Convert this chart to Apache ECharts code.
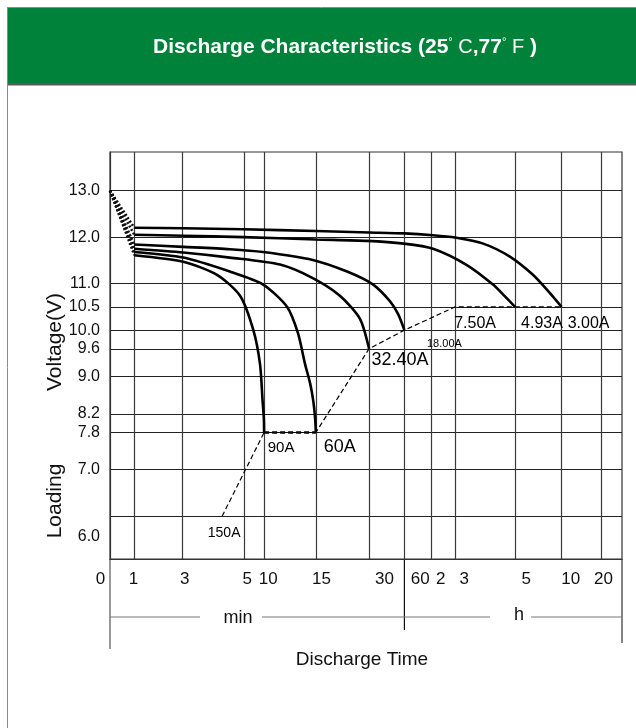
<!DOCTYPE html>
<html><head><meta charset="utf-8">
<script src="https://cdn.jsdelivr.net/npm/echarts@6/dist/echarts.min.js"></script>
<style>html,body{margin:0;padding:0;background:#fff}#c{width:636px;height:728px}</style>
</head><body><div id="c"></div><script>
// ---- axis definitions (x axis is a position scale 0..100 across the time span) ----
const xGridPos   = [4.75, 14.2, 26.2, 30.1, 40.2, 50.6, 57.5, 62.7, 67.4, 79.1, 88.2, 96.0];
const xLabelText = ['0', '1', '3', '5', '10', '15', '30', '60', '2', '3', '5', '10', '20'];
const xLabelPos  = [0, 4.6, 14.6, 26.8, 30.9, 41.3, 53.6, 60.6, 64.6, 69.2, 81.3, 90.0, 96.4];
const yGridVals  = [13.0, 12.0, 11.0, 10.5, 10.0, 9.6, 9.0, 8.2, 7.8, 7.0, 6.0];
const yLabelText = ['13.0', '12.0', '11.0', '10.5', '10.0', '9.6', '9.0', '8.2', '7.8', '7.0', '6.0'];
const yLabelPos  = [13.0, 12.0, 11.0, 10.5, 10.0, 9.6, 9.0, 8.2, 7.8, 7.0, 5.57];

// ---- discharge curves: [time position, voltage] ----
const curve3A    = [[4.75,12.20],[14.3,12.19],[26.0,12.17],[40.2,12.13],[50.6,12.10],[57.5,12.08],[63.1,12.04],[67.4,11.99],[72.9,11.86],[78.1,11.58],[82.6,11.19],[85.5,10.85],[88.2,10.5]];
const curve4_93A = [[4.75,12.05],[14.3,12.03],[26.0,12.00],[40.2,11.95],[50.2,11.92],[57.4,11.86],[63.1,11.75],[69.7,11.40],[74.8,10.98],[77.1,10.73],[79.1,10.5]];
const curve18A   = [[4.75,11.84],[14.3,11.79],[23.4,11.74],[29.9,11.68],[39.6,11.51],[46.3,11.26],[51.4,10.98],[54.7,10.62],[56.3,10.34],[57.5,10.0]];
const curve32_4A = [[4.75,11.75],[14.3,11.67],[23.4,11.56],[33.2,11.41],[39.6,11.12],[44.9,10.74],[48.8,10.25],[50.6,9.6]];
const curve60A   = [[4.75,11.68],[14.3,11.56],[23.4,11.26],[29.9,10.98],[34.6,10.5],[36.7,9.94],[38.1,9.27],[39.1,8.85],[39.7,8.48],[40.05,8.12],[40.2,7.8]];
const curve90A   = [[4.75,11.61],[14.3,11.47],[20.9,11.19],[25.4,10.74],[28.0,10.0],[29.3,9.27],[29.8,8.48],[30.05,8.1],[30.1,7.8]];
const curves = [curve3A, curve4_93A, curve18A, curve32_4A, curve60A, curve90A];
const startPoint = [0, 13.0];

// ---- end-of-discharge points and their labels ----
const endPts    = [[21.9,6.0],[30.1,7.8],[40.2,7.8],[50.6,9.6],[57.5,10.0],[67.4,10.5],[79.1,10.5],[88.2,10.5]];
const endLabels = ['150A','90A','60A','32.40A','18.00A','7.50A','4.93A','3.00A'];
const endLabelOffset = [[2,17],[17,15],[24,15],[31,11],[40,14],[20,17],[27,17],[27,17]];
const endLabelSize   = [14,15,18,18,11,16,16,16];

const FONT = "'Liberation Sans', Arial, sans-serif";

const chart = echarts.init(document.getElementById('c'), null, {renderer:'canvas'});

const series = [];
curves.forEach(c => {
  series.push({type:'line', data:[startPoint, c[0]], symbol:'none', silent:true,
    lineStyle:{color:'#111', width:2.6, type:[2,2]}, z:3});
  series.push({type:'line', data:c, symbol:'none', smooth:0.25, silent:true,
    lineStyle:{color:'#000', width:2.6}, z:4});
});
// thin dashed line joining end points
series.push({type:'line', data:endPts, symbol:'none', silent:true,
  lineStyle:{color:'#000', width:1.2, type:[5,3]}, z:5});
// thicker dashed segment between 90A and 60A ends
series.push({type:'line', data:[endPts[1], endPts[2]], symbol:'none', silent:true,
  lineStyle:{color:'#000', width:2.4, type:[5,3]}, z:5});
// labels
series.push({type:'scatter', symbolSize:0, silent:true, z:6, itemStyle:{opacity:1},
  data: endPts.map((p,i) => ({value:p, label:{show:true, formatter:endLabels[i], position:'inside',
    offset:endLabelOffset[i], fontSize:endLabelSize[i], color:'#000', opacity:1,
    textBorderWidth:0, fontFamily:FONT}}))});

chart.setOption({
  animation:false,
  backgroundColor:'#fff',
  grid:{left:110, top:152, right:14, bottom:169, show:true, borderColor:'#333', borderWidth:1.2, backgroundColor:'transparent'},
  xAxis:{type:'value', min:0, max:100,
    axisLine:{show:true, lineStyle:{color:'#333', width:1.2}},
    axisTick:{show:false, customValues:xGridPos},
    splitLine:{show:true, lineStyle:{color:'#3a3a3a', width:1.2}},
    axisLabel:{customValues:xLabelPos, margin:12, fontSize:17, color:'#111', fontFamily:FONT,
      formatter:v => { const i = xLabelPos.findIndex(p => Math.abs(p-v) < 1e-6); if (i===0) return '{z|0}'; return i>=0 ? xLabelText[i] : ''; },
      rich:{z:{fontSize:17, color:'#111', fontFamily:FONT, padding:[0,19,0,0]}}}
  },
  yAxis:{type:'value', min:5.08, max:13.83,
    axisLine:{show:true, lineStyle:{color:'#333', width:1.2}},
    axisTick:{show:false, customValues:yGridVals},
    splitLine:{show:true, lineStyle:{color:'#222', width:1.2}},
    axisLabel:{customValues:yLabelPos, margin:10, fontSize:16, color:'#111', fontFamily:FONT,
      formatter:v => { const i = yLabelPos.findIndex(p => Math.abs(p-v) < 1e-6); return i>=0 ? yLabelText[i] : ''; }}
  },
  series: series
});

// decorations: header bar, frame, time unit row, axis titles
const sepX = chart.convertToPixel({xAxisIndex:0}, xGridPos[6]);
const g = [
  {type:'line', shape:{x1:7.5,y1:7,x2:7.5,y2:728}, style:{stroke:'#8a8a8a', lineWidth:1}},
  {type:'line', shape:{x1:7,y1:7.5,x2:636,y2:7.5}, style:{stroke:'#8a8a8a', lineWidth:1}},
  {type:'rect', shape:{x:8, y:8, width:628, height:75}, style:{fill:'#00823a'}},
  {type:'rect', shape:{x:8, y:83, width:628, height:2.5}, style:{fill:'#5a5a5a'}},
  {type:'text', x:345, y:47, style:{
    text:'{b|Discharge Characteristics (25}{d|°}{n| C}{b|,77}{d|°}{n| F}{b| )}',
    align:'center', verticalAlign:'middle', fill:'#fff',
    rich:{b:{fontSize:21, fontWeight:'bold', fill:'#fff', fontFamily:FONT},
          n:{fontSize:20, fill:'#fff', fontFamily:FONT},
          d:{fontSize:11, fill:'#fff', fontFamily:FONT, verticalAlign:'top', padding:[0,0,10,0]}}}},
  {type:'line', shape:{x1:110,y1:559,x2:110,y2:649}, style:{stroke:'#555', lineWidth:1.2}},
  {type:'line', shape:{x1:622,y1:559,x2:622,y2:643}, style:{stroke:'#333', lineWidth:1.2}},
  {type:'line', shape:{x1:sepX,y1:559,x2:sepX,y2:630}, style:{stroke:'#111', lineWidth:1.2}},
  {type:'line', shape:{x1:110,y1:617,x2:200,y2:617}, style:{stroke:'#777', lineWidth:1.2}},
  {type:'line', shape:{x1:262,y1:617,x2:490,y2:617}, style:{stroke:'#777', lineWidth:1.2}},
  {type:'line', shape:{x1:531,y1:617,x2:622,y2:617}, style:{stroke:'#777', lineWidth:1.2}},
  {type:'text', x:238, y:618, style:{text:'min', align:'center', verticalAlign:'middle', fontSize:18, fill:'#111', fontFamily:FONT}},
  {type:'text', x:519, y:615, style:{text:'h', align:'center', verticalAlign:'middle', fontSize:18, fill:'#111', fontFamily:FONT}},
  {type:'text', x:362, y:660, style:{text:'Discharge Time', align:'center', verticalAlign:'middle', fontSize:19, fill:'#111', fontFamily:FONT}},
  {type:'text', x:55, y:342, rotation:Math.PI/2, style:{text:'Voltage(V)', align:'center', verticalAlign:'middle', fontSize:21, fill:'#111', fontFamily:FONT}},
  {type:'text', x:55, y:501, rotation:Math.PI/2, style:{text:'Loading', align:'center', verticalAlign:'middle', fontSize:21, fill:'#111', fontFamily:FONT}}
];
chart.setOption({graphic:{elements:g}});
</script></body></html>
